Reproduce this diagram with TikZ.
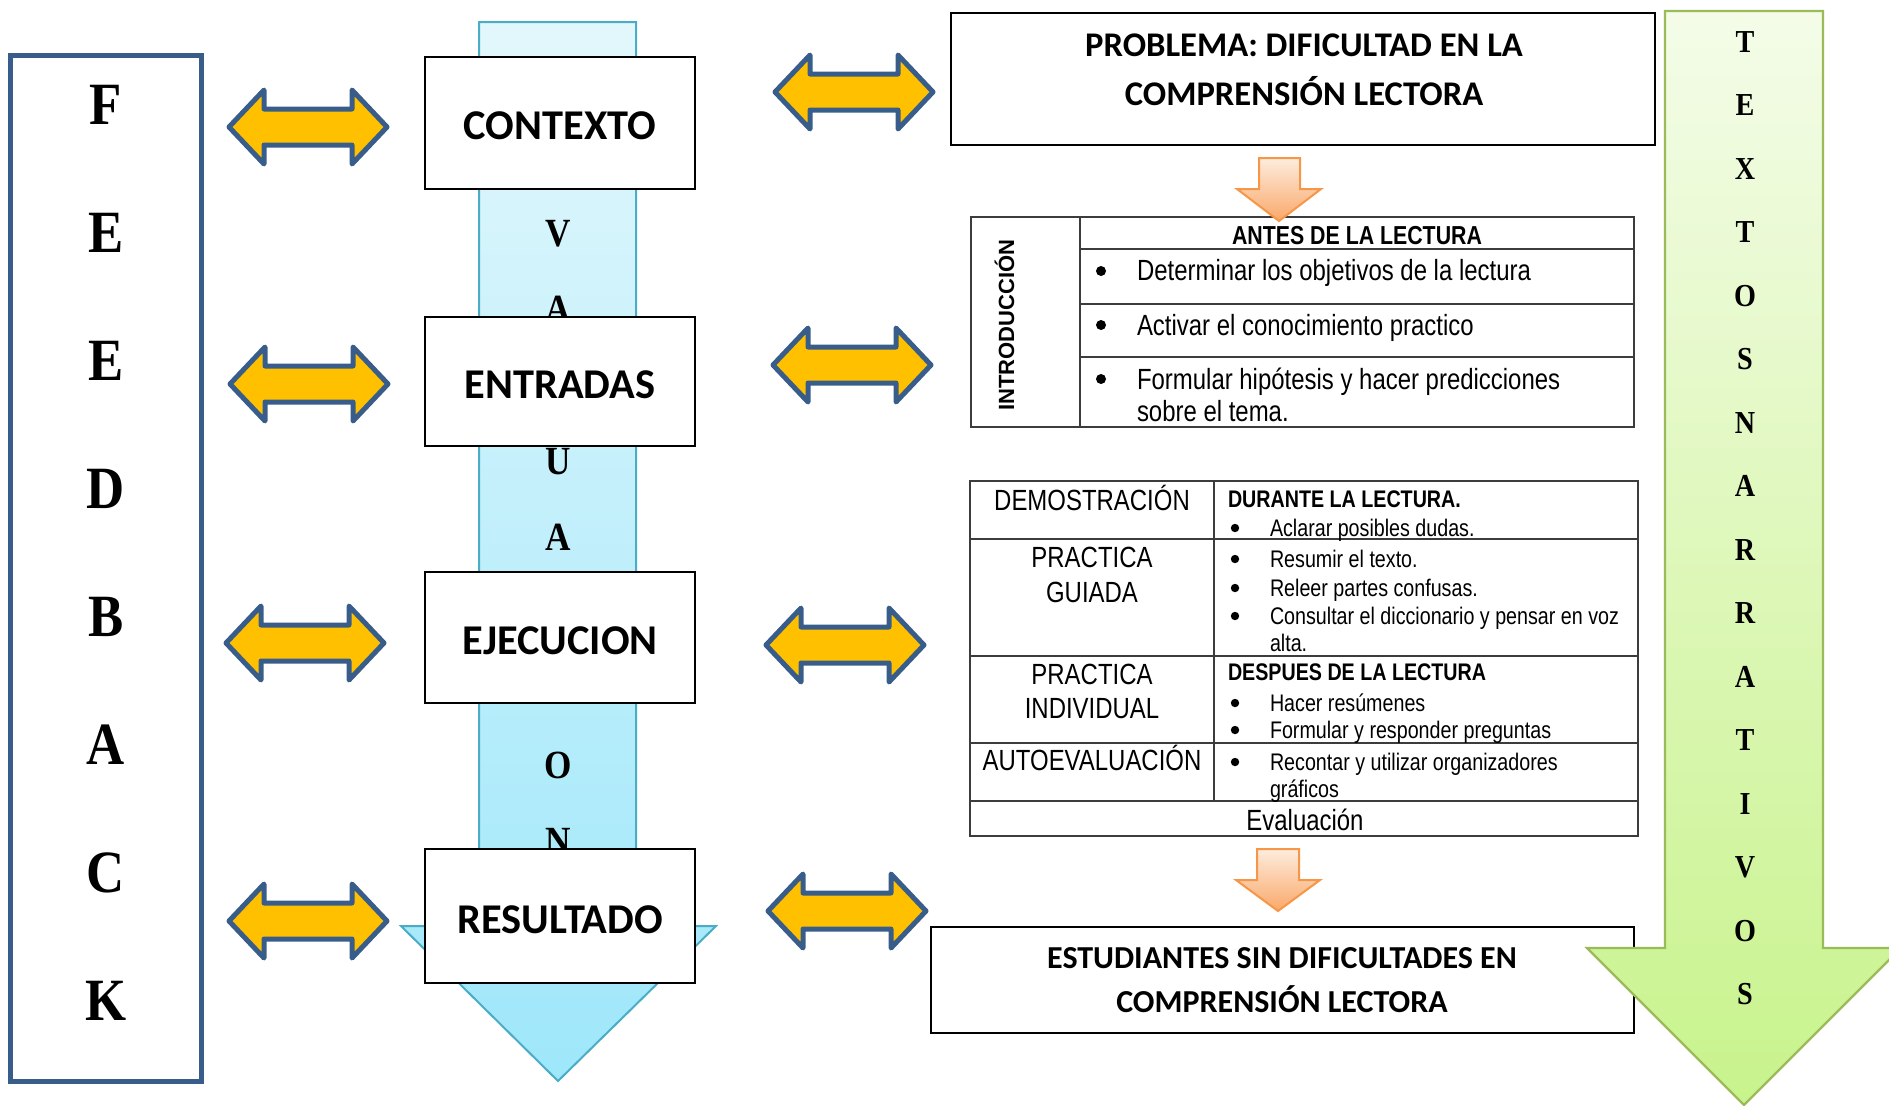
\documentclass[tikz,border=0pt]{standalone}
\usepackage{fontspec}
\setmainfont{Liberation Serif}
\newfontfamily\calib{Carlito}
\newfontfamily\narrowf[FakeStretch=0.82]{Liberation Sans}
\newfontfamily\arialf{Liberation Sans}
\newfontfamily\timesc[FakeStretch=0.88]{Liberation Serif}
\definecolor{dblue}{RGB}{56,93,138}
\definecolor{gold}{RGB}{255,192,0}
\definecolor{bluetop}{RGB}{226,247,252}
\definecolor{bluebot}{RGB}{158,231,250}
\definecolor{blueedge}{RGB}{75,172,198}
\definecolor{greentop}{RGB}{244,252,232}
\definecolor{greenbot}{RGB}{200,243,140}
\definecolor{greenedge}{RGB}{155,187,89}
\definecolor{orgtop}{RGB}{253,236,222}
\definecolor{orgbot}{RGB}{250,168,105}
\definecolor{orgedge}{RGB}{247,150,70}
\definecolor{tgray}{RGB}{60,60,60}
\newcommand\ftA{\narrowf\fontsize{14.6}{17}\selectfont}
\newcommand\ftB{\narrowf\fontsize{12}{14}\selectfont}
\tikzset{pics/dblarrow/.style={code={
  \draw[dbl] (-79,0) -- (-44,-37) -- (-44,-18) -- (44,-18) -- (44,-37) -- (79,0)
     -- (44,37) -- (44,18) -- (-44,18) -- (-44,37) -- cycle;}}}
\begin{document}
\begin{tikzpicture}[x=0.5pt,y=-0.5pt,
  every node/.style={inner sep=0pt, outer sep=0pt},
  dbl/.style={fill=gold, draw=dblue, line width=2.5pt, line join=round},
  boxw/.style={draw=black, line width=0.75pt, fill=white},
  cbox/.style={boxw, minimum width=135pt},
  ctext/.style={font=\calib\bfseries\fontsize{21.2}{25}\selectfont, anchor=base},
  htext/.style={font=\calib\bfseries\fontsize{17.3}{20}\selectfont, anchor=base},
  bigletter/.style={font=\timesc\bfseries\fontsize{30}{30}\selectfont, anchor=base},
  midletter/.style={font=\timesc\bfseries\fontsize{20}{20}\selectfont, anchor=base},
  smallletter/.style={font=\timesc\bfseries\fontsize{16}{16}\selectfont, anchor=base},
  tline/.style={draw=tgray, line width=0.7pt},
  t1/.style={font=\ftA, anchor=base west},
  t1c/.style={font=\ftA, anchor=base},
  t2/.style={font=\ftB, anchor=base west},
  t2b/.style={font=\ftB\bfseries, anchor=base west},
  orgarrow/.style={draw=orgedge, line width=1pt, top color=orgtop, bottom color=orgbot, line join=miter}
]
\useasboundingbox (0,0) rectangle (1889,1105);
\clip (0,0) rectangle (1889,1105);

% FEEDBACK box
\node[draw=dblue, line width=2.5pt, minimum width=95.5pt, minimum height=513pt] (fb) at (105.5,568) {};
\foreach \l/\yy [count=\i] in {F/124,E/252,E/380,D/508,B/636,A/764,C/892,K/1020}
  \node[bigletter] (fb\i) at (106,\yy) {\l};

% blue evaluation arrow
\draw[draw=blueedge, line width=1pt, top color=bluetop, bottom color=bluebot]
  (479,22) -- (636,22) -- (636,926) -- (716,926) -- (558,1081) -- (401,926) -- (479,926) -- cycle;
\foreach \l/\yy [count=\i] in {V/246,A/322,U/474,A/550,O/778,N/854}
  \node[midletter] (ev\i) at (558,\yy) {\l};

% centre boxes
\node[cbox, minimum height=66pt] (ctx) at (560,123) {};
\node[ctext] (ctxt) at (560,139.5) {CONTEXTO};
\node[cbox, minimum height=64.5pt] (ent) at (560,381.5) {};
\node[ctext] (entt) at (560,398) {ENTRADAS};
\node[cbox, minimum height=65.5pt] (eje) at (560,637.5) {};
\node[ctext] (ejet) at (560,654) {EJECUCION};
\node[cbox, minimum height=67pt] (res) at (560,916) {};
\node[ctext] (rest) at (560,933) {RESULTADO};

% double arrows
\pic at (308,127) {dblarrow};
\pic at (309,384) {dblarrow};
\pic at (305,643) {dblarrow};
\pic at (308,921) {dblarrow};
\pic at (854,92) {dblarrow};
\pic at (852,365) {dblarrow};
\pic at (845,645) {dblarrow};
\pic at (847,911) {dblarrow};

% problem box
\node[boxw, minimum width=352pt, minimum height=66pt] (prob) at (1303,79) {};
\node[htext] (prob1) at (1304,56.5) {PROBLEMA: DIFICULTAD EN LA};
\node[htext] (prob2) at (1304,105) {COMPRENSIÓN LECTORA};

% table 1
\draw[tline] (971,217) rectangle (1634,427);
\draw[tline] (1080,217) -- (1080,427);
\draw[tline] (1080,249) -- (1634,249) (1080,304) -- (1634,304) (1080,357) -- (1634,357);
\node[font=\arialf\bfseries\fontsize{11}{13}\selectfont, rotate=90, anchor=base] (intro) at (1014,325) {INTRODUCCIÓN};
\node[font=\narrowf\bfseries\fontsize{13}{15}\selectfont, anchor=base] (antes) at (1357,244) {ANTES DE LA LECTURA};
\fill (1101,271) circle (2.5pt);
\fill (1101,325) circle (2.5pt);
\fill (1101,379) circle (2.5pt);
\node[t1] (a1) at (1137,280.5) {Determinar los objetivos de la lectura};
\node[t1] (a2) at (1137,335.5) {Activar el conocimiento practico};
\node[t1] (a3) at (1137,389.5) {Formular hipótesis y hacer predicciones};
\node[t1] (a3b) at (1137,421.5) {sobre el tema.};

% table 2
\draw[tline] (970,481) rectangle (1638,836);
\draw[tline] (1214,481) -- (1214,801);
\foreach \yy in {539,656,743,801} \draw[tline] (970,\yy) -- (1638,\yy);
\node[t1c] (demo) at (1092,510.5) {DEMOSTRACIÓN};
\node[t1c] (pg1) at (1092,567.5) {PRACTICA};
\node[t1c] (pg2) at (1092,602.5) {GUIADA};
\node[t1c] (pi1) at (1092,684.5) {PRACTICA};
\node[t1c] (pi2) at (1092,718.5) {INDIVIDUAL};
\node[t1c] (auto) at (1092,770.5) {AUTOEVALUACIÓN};
\node[t1c] (evalc) at (1305,830.5) {Evaluación};
\node[t2b] (dur) at (1228,507) {DURANTE LA LECTURA.};
\node[t2b] (desp) at (1228,680.5) {DESPUES DE LA LECTURA};
\foreach \yy in {528,559,588,616,703,730,762} \fill (1235,\yy) circle (2.1pt);
\node[t2] (b1) at (1270,536.6) {Aclarar posibles dudas.};
\node[t2] (b2) at (1270,567.5) {Resumir el texto.};
\node[t2] (b3) at (1270,596.5) {Releer partes confusas.};
\node[t2] (b4) at (1270,624.5) {Consultar el diccionario y pensar en voz};
\node[t2] (b4b) at (1270,651.5) {alta.};
\node[t2] (b5) at (1270,711.5) {Hacer resúmenes};
\node[t2] (b6) at (1270,738.5) {Formular y responder preguntas};
\node[t2] (b7) at (1270,770.5) {Recontar y utilizar organizadores};
\node[t2] (b7b) at (1270,797.5) {gráficos};

% orange arrows
\draw[orgarrow] (1259,158) -- (1300,158) -- (1300,189) -- (1321,189) -- (1279,221) -- (1237,189) -- (1259,189) -- cycle;
\draw[orgarrow] (1257,849) -- (1299,849) -- (1299,880) -- (1320,880) -- (1278,911) -- (1236,880) -- (1257,880) -- cycle;

% result box
\node[boxw, minimum width=351.5pt, minimum height=53pt] (est) at (1282.5,980) {};
\node[htext, font=\calib\bfseries\fontsize{16}{19}\selectfont] (est1) at (1282,968) {ESTUDIANTES SIN DIFICULTADES EN};
\node[htext, font=\calib\bfseries\fontsize{16}{19}\selectfont] (est2) at (1282,1012.5) {COMPRENSIÓN LECTORA};

% green arrow
\draw[draw=greenedge, line width=1.1pt, top color=greentop, bottom color=greenbot]
  (1665,11) -- (1823,11) -- (1823,948) -- (1901,948) -- (1744,1105) -- (1587,948) -- (1665,948) -- cycle;
\foreach \l [count=\i from 0] in {T,E,X,T,O,S,N,A,R,R,A,T,I,V,O,S}
  \node[smallletter] (tx\i) at (1745,{52+63.5*\i}) {\l};
\end{tikzpicture}
\end{document}
